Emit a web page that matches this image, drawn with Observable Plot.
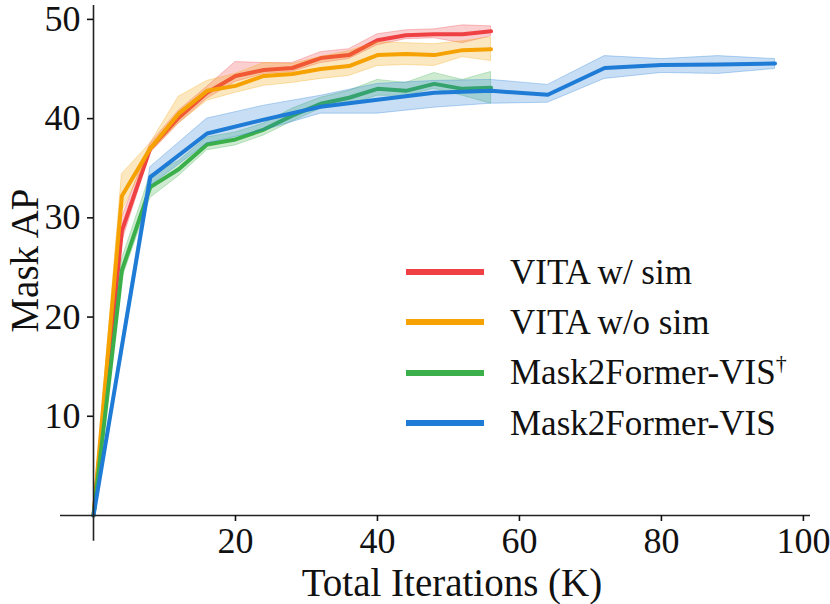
<!DOCTYPE html>
<html>
<head>
<meta charset="utf-8">
<script src="https://cdn.jsdelivr.net/npm/d3@7"></script>
<script src="https://cdn.jsdelivr.net/npm/@observablehq/plot@0.6"></script>
<style>
  body { margin: 0; background: #fff; }
  #wrap { position: relative; width: 830px; height: 604px; font-family: "Liberation Serif", "Times New Roman", serif; }
  #legend { position: absolute; left: 406px; top: 247px; }
  .row { display: flex; align-items: center; height: 50.3px; }
  .sw { width: 78px; height: 6px; margin-right: 26px; }
  .lab { font-size: 35px; color: #111; line-height: 1; white-space: nowrap; }
  .lab sup { font-size: 22px; vertical-align: 14px; line-height: 0; }
</style>
</head>
<body>
<div id="wrap"></div>
<script>
// ---- data ----
const seriesNames = ["VITA w/ sim", "VITA w/o sim", "Mask2Former-VIS†", "Mask2Former-VIS"];
const seriesColors = ["#ef4044", "#f5a202", "#3bb04a", "#1e7bd6"];

const xVita = [0, 4, 8, 12, 16, 20, 24, 28, 32, 36, 40, 44, 48, 52, 56];
const xM2F  = [0, 8, 16, 24, 32, 40, 48, 56, 64, 72, 80, 88, 96];

const redMean = [0, 28.7, 37.0, 40.1, 42.6, 44.3, 44.9, 45.1, 46.1, 46.4, 47.9, 48.4, 48.5, 48.5, 48.8];
const redLow  = [0, 27.5, 36.5, 39.5, 42.0, 43.7, 44.5, 44.7, 45.6, 46.0, 47.4, 48.0, 48.1, 47.6, 48.3];
const redHigh = [0, 30.0, 37.5, 40.8, 43.2, 45.7, 45.6, 45.6, 46.7, 47.0, 48.5, 48.9, 49.0, 49.4, 49.3];

const orangeMean = [0, 32.2, 37.0, 40.5, 42.8, 43.3, 44.3, 44.5, 45.0, 45.3, 46.4, 46.5, 46.4, 46.9, 47.0];
const orangeLow  = [0, 30.6, 36.6, 39.5, 41.8, 42.6, 43.3, 43.6, 44.0, 44.3, 45.3, 45.4, 45.3, 46.2, 45.8];
const orangeHigh = [0, 34.4, 37.5, 42.2, 43.8, 44.5, 45.6, 45.5, 46.2, 46.8, 47.7, 47.6, 47.5, 47.8, 48.2];

const greenMean = [0, 24.7, 33.1, 34.9, 37.4, 37.9, 38.9, 40.3, 41.5, 42.1, 43.0, 42.8, 43.5, 43.0, 43.1];
const greenLow  = [0, 23.8, 32.0, 34.2, 36.8, 37.3, 38.3, 39.7, 41.0, 41.4, 42.3, 42.3, 43.0, 42.3, 41.5];
const greenHigh = [0, 25.8, 34.3, 35.7, 38.1, 38.6, 39.5, 41.0, 42.1, 42.8, 43.9, 43.6, 44.6, 43.9, 44.7];

const blueMean = [0, 34.1, 38.5, 39.9, 41.2, 41.9, 42.6, 42.8, 42.4, 45.1, 45.4, 45.45, 45.55];
const blueLow  = [0, 33.2, 37.5, 38.8, 40.5, 40.5, 41.1, 41.5, 41.6, 44.0, 44.6, 44.5, 45.0];
const blueHigh = [0, 35.1, 40.0, 41.3, 42.3, 43.5, 43.8, 43.9, 43.4, 46.3, 46.0, 46.3, 46.0];

const xTicks = [20, 40, 60, 80, 100];
const yTicks = [10, 20, 30, 40, 50];
const xLabel = "Total Iterations (K)";
const yLabel = "Mask AP";

// ---- build rows ----
function rows(xs, m, lo, hi) {
  return xs.map((x, i) => ({x, y: m[i], lo: lo[i], hi: hi[i]}));
}
const series = [
  rows(xVita, redMean, redLow, redHigh),
  rows(xVita, orangeMean, orangeLow, orangeHigh),
  rows(xVita, greenMean, greenLow, greenHigh),
  rows(xM2F, blueMean, blueLow, blueHigh)
];

const marks = [];
series.forEach((data, i) => {
  const c = seriesColors[i];
  marks.push(Plot.areaY(data, {x: "x", y1: "lo", y2: "hi", fill: c, fillOpacity: 0.25, stroke: c, strokeOpacity: 0.3, strokeWidth: 1}));
  marks.push(Plot.line(data, {x: "x", y: "y", stroke: c, strokeWidth: 4}));
});

const chart = Plot.plot({
  width: 830,
  height: 604,
  marginLeft: 93,
  marginRight: 20,
  marginTop: 5,
  marginBottom: 89,
  style: {fontFamily: "'Liberation Serif', 'Times New Roman', serif", fontSize: "36px", color: "#111", background: "white"},
  x: {domain: [0, 101]},
  y: {domain: [0, 51.4]},
  marks: [
    ...marks,
    Plot.ruleX([0], {y1: -2.6, y2: 51.4, stroke: "#222", strokeWidth: 1.6}),
    Plot.ruleY([0], {x1: -4.65, x2: 101, stroke: "#222", strokeWidth: 1.6}),
    Plot.axisX(xTicks, {tickSize: 6, tickPadding: 6, strokeWidth: 1.6, label: null, fontSize: 36}),
    Plot.axisY(yTicks, {tickSize: 6, tickPadding: 7, strokeWidth: 1.6, label: null, fontSize: 36}),
    Plot.text([xLabel], {frameAnchor: "bottom", dy: 68, fontSize: 39, lineAnchor: "middle", textAnchor: "middle"}),
    Plot.text([yLabel], {frameAnchor: "left", dx: -68, rotate: -90, fontSize: 39, lineAnchor: "middle", textAnchor: "middle"})
  ]
});

const wrap = document.getElementById("wrap");
wrap.appendChild(chart);

const legend = document.createElement("div");
legend.id = "legend";
seriesNames.forEach((name, i) => {
  const row = document.createElement("div");
  row.className = "row";
  const sw = document.createElement("div");
  sw.className = "sw";
  sw.style.background = seriesColors[i];
  const lab = document.createElement("div");
  lab.className = "lab";
  if (name.endsWith("†")) {
    lab.textContent = name.slice(0, -1);
    const s = document.createElement("sup");
    s.textContent = "†";
    lab.appendChild(s);
  } else {
    lab.textContent = name;
  }
  row.appendChild(sw);
  row.appendChild(lab);
  legend.appendChild(row);
});
wrap.appendChild(legend);
</script>
</body>
</html>
